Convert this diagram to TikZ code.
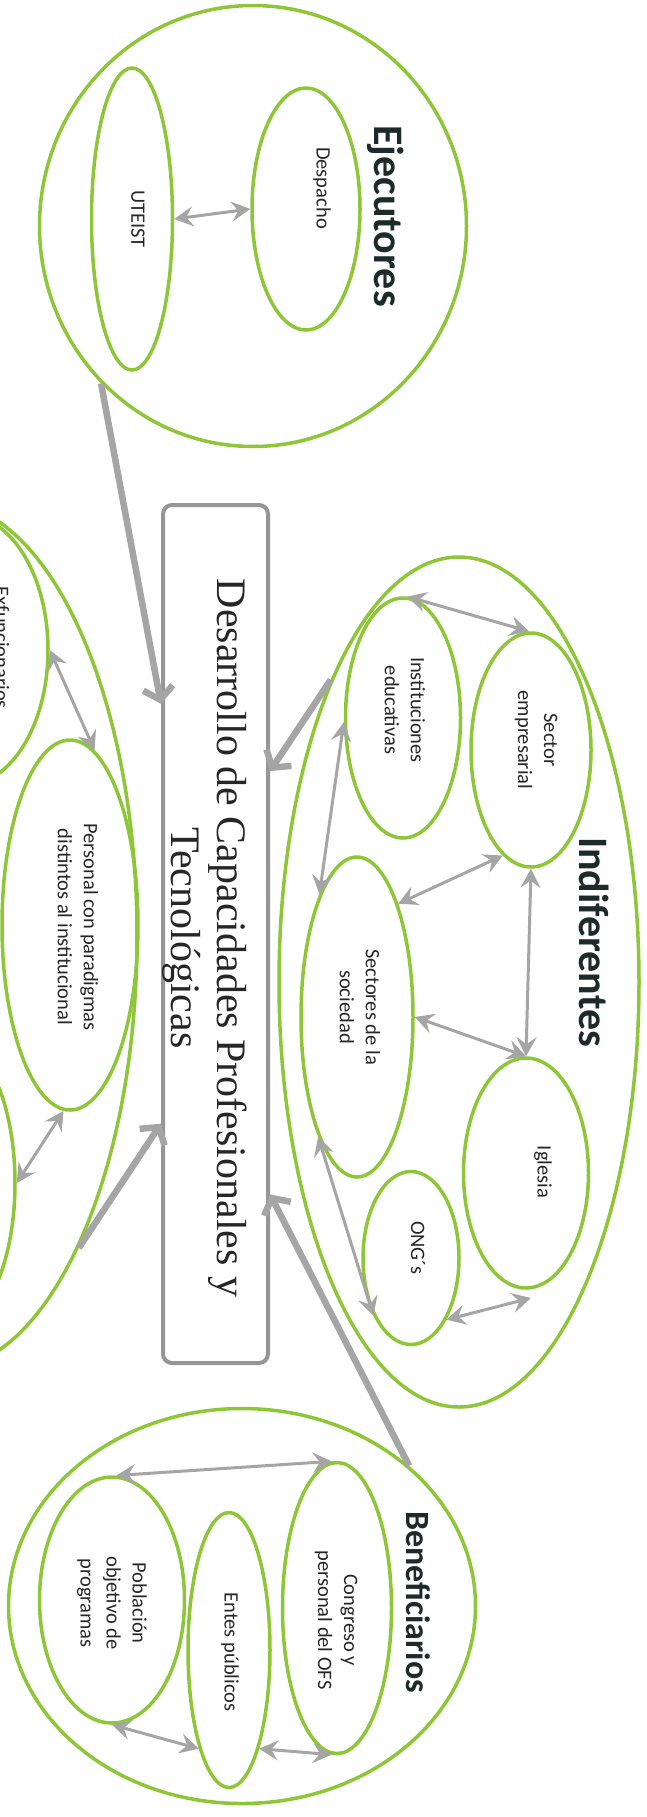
\documentclass[tikz,border=0pt]{standalone}
\usepackage{fontspec}
\setmainfont{Carlito}
\newfontfamily\boxfont{Liberation Serif}
\usepackage{tikz}
\usetikzlibrary{shapes,arrows.meta,positioning,calc}
\definecolor{grpgreen}{RGB}{141,198,55}
\definecolor{arrgray}{RGB}{165,165,165}
\definecolor{boxgray}{RGB}{150,150,150}
\definecolor{ttldark}{RGB}{28,42,42}

\begin{document}
\begin{tikzpicture}[x=1pt, y=1pt, rotate=-90, transform shape]
  \tikzstyle{grp} = [ellipse, draw=grpgreen, line width=3.5pt, inner sep=0pt]
  \tikzstyle{lbl} = [align=center, text=black!85, font=\fontsize{20.5}{26}\selectfont, inner sep=0pt]
  \tikzstyle{ttl} = [font=\bfseries\fontsize{42}{50}\selectfont, text=ttldark, inner sep=0pt]
  \tikzstyle{link} = [draw=arrgray, line width=3pt, arrows={Stealth[length=19pt,width=20pt,inset=7pt]-Stealth[length=19pt,width=20pt,inset=7pt]}]
  \tikzstyle{feed} = [draw=arrgray, line width=6.5pt, arrows={-Straight Barb[length=12pt,width=30pt]}]

  \useasboundingbox (0,0) rectangle (1817,646);
  \clip (0,0) rectangle (1817,646);

  % Ejecutores
  \node[grp, minimum width=441pt, minimum height=427pt] (ejec) at (226,253) {};
  \node[grp, minimum width=302pt, minimum height=81pt] (uteist) at (219,132) {};
  \node[grp, minimum width=242pt, minimum height=108pt] (despacho) at (209,306) {};
  \node[ttl] (ejec-t) at (216,386) {Ejecutores};
  \node[lbl] (uteist-t) at (219,138) {UTEIST};
  \node[lbl] (despacho-t) at (188,322) {Despacho};

  % centro
  \node[draw=boxgray, line width=4pt, rounded corners=9pt, minimum width=858pt, minimum height=105pt] (box) at (934,215.5) {};
  \node[font=\boxfont\fontsize{42}{46}\selectfont, align=center, text=black!85] (box-t) at (938,205) {Desarrollo de Capacidades Profesionales y\\Tecnológicas};

  % Indiferentes
  \node[grp, minimum width=850pt, minimum height=360pt] (indif) at (982,459) {};
  \node[grp, minimum width=240pt, minimum height=115pt] (inst) at (718,403) {};
  \node[grp, minimum width=234pt, minimum height=120pt] (sectemp) at (750,531) {};
  \node[grp, minimum width=320pt, minimum height=112pt] (sectsoc) at (1017,357) {};
  \node[grp, minimum width=230pt, minimum height=125pt] (iglesia) at (1173,526) {};
  \node[grp, minimum width=173pt, minimum height=96pt] (ong) at (1258,411) {};
  \node[ttl] (indif-t) at (942,594) {Indiferentes};
  \node[lbl] (inst-t) at (710,405) {Instituciones\\educativas};
  \node[lbl] (sectemp-t) at (740,536) {Sector\\empresarial};
  \node[lbl] (sectsoc-t) at (1007,360) {Sectores de la\\sociedad};
  \node[lbl] (iglesia-t) at (1172,543) {Iglesia};
  \node[lbl] (ong-t) at (1248,418) {ONG´s};
  \coordinate (ongtip) at (1298,531);

  % Beneficiarios
  \node[grp, minimum width=395pt, minimum height=467pt] (benef) at (1606,242) {};
  \node[grp, minimum width=291pt, minimum height=109pt] (congreso) at (1608,337) {};
  \node[grp, minimum width=275pt, minimum height=82pt] (entes) at (1650,229) {};
  \node[grp, minimum width=246pt, minimum height=145pt] (poblacion) at (1600,112) {};
  \node[ttl, font=\bfseries\fontsize{34}{40}\selectfont] (benef-t) at (1602,418) {Beneficiarios};
  \node[lbl] (congreso-t) at (1620,336) {Congreso y\\personal del OFS};
  \node[lbl] (entes-t) at (1652,230) {Entes públicos};
  \node[lbl] (poblacion-t) at (1603,112) {Población\\objetivo de\\programas};

  % grupo cortado por el borde
  \node[grp, minimum width=868pt, minimum height=394pt] (otros) at (936,-60) {};
  \node[grp, minimum width=270pt, minimum height=166pt] (exfunc) at (650,-35) {};
  \node[grp, minimum width=370pt, minimum height=136pt] (personal) at (925,70) {};
  \node[grp, minimum width=290pt, minimum height=130pt] (lowcut) at (1183,-50) {};
  \node[lbl] (exfunc-t) at (648,2) {Exfuncionarios};
  \node[lbl] (personal-t) at (927,78) {Personal con paradigmas\\distintos al institucional};

  % relaciones
  \draw[link] (uteist.north) -- (despacho.south);
  \draw[link] (inst.178) -- (sectemp.181);
  \draw[link] (inst.-86) -- (sectsoc.197);
  \draw[link] (sectemp.-15) -- (sectsoc.160);
  \draw[link] (sectemp.east) -- (iglesia.west);
  \draw[link] (sectsoc.north) -- (iglesia.west);
  \draw[link] (sectsoc.-18) -- (ong.-33);
  \draw[link] (ong.30) -- (ongtip);
  \draw[link] (poblacion.178) -- (congreso.182);
  \draw[link] (poblacion.east) -- (entes.-17);
  \draw[link] (entes.17) -- (congreso.-2);
  \draw[link] (exfunc.north) -- (personal.172);
  \draw[link] (personal.-2) -- (lowcut.north);

  % hacia el centro
  \draw[feed] (ejec.-44) -- ($(box.south west)!0.233!(box.south east)$);
  \draw[feed] (indif.203) -- ($(box.north west)!0.311!(box.north east)$);
  \draw[feed] (benef.130) -- ($(box.north west)!0.802!(box.north east)$);
  \draw[feed] (otros.24) -- ($(box.south west)!0.72!(box.south east)$);
\end{tikzpicture}
\end{document}
